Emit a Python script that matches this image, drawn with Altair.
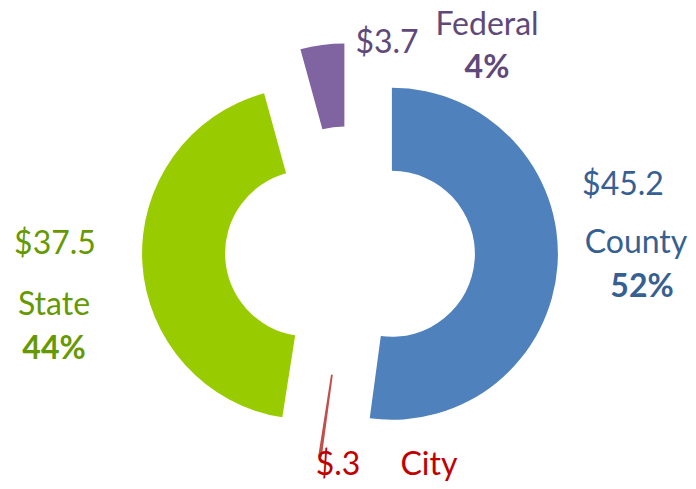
import altair as alt
import pandas as pd

# ---- data ----
categories = ["County", "City", "State", "Federal"]
values = [45.2, 0.3, 37.5, 3.7]
value_labels = ["$45.2", "$.3", "$37.5", "$3.7"]
pct_labels = ["52%", "", "44%", "4%"]

# ---- styles / layout ----
slice_colors = ["#4F81BD", "#C0504D", "#99CC00", "#8064A2"]
text_colors = ["#376092", "#C00000", "#669900", "#5F497A"]
FONT = "Lato"
FS = 32
W, H = 680, 473
MARGIN = 8
CX, CY = 350 - MARGIN, 251 - MARGIN
EXPLODE = 42
R_OUT, R_IN = 166, 83

# label anchors (page coords: center x, baseline y)
LABEL_POS = {
    ("County", "value"): (623, 195), ("County", "name"): (636, 253), ("County", "pct"): (642, 297),
    ("State", "value"): (55, 254), ("State", "name"): (54, 315), ("State", "pct"): (54, 359),
    ("Federal", "value"): (387, 53), ("Federal", "name"): (487, 35), ("Federal", "pct"): (487, 78),
    ("City", "value"): (338, 475), ("City", "name"): (429, 475),
}

slices = pd.DataFrame({"category": categories, "value": values, "order": list(range(len(categories)))})

rows = []
for i, c in enumerate(categories):
    for kind, txt in (("value", value_labels[i]), ("name", c), ("pct", pct_labels[i])):
        if txt and (c, kind) in LABEL_POS:
            px, py = LABEL_POS[(c, kind)]
            rows.append({"category": c, "kind": kind, "text": txt, "lx": px - MARGIN, "ly": py - MARGIN})
labels = pd.DataFrame(rows)

color_slices = alt.Scale(domain=categories, range=slice_colors)
color_text = alt.Scale(domain=categories, range=text_colors)

arcs = (
    alt.Chart(slices)
    .transform_window(cum="sum(value)", sort=[alt.SortField("order")], frame=[None, 0])
    .transform_joinaggregate(total="sum(value)")
    .transform_calculate(
        t0="2*PI*(datum.cum - datum.value)/datum.total",
        t1="2*PI*datum.cum/datum.total",
    )
    .transform_calculate(mid="(datum.t0 + datum.t1)/2")
    .transform_calculate(
        ox=f"{CX} + {EXPLODE}*sin(datum.mid)",
        oy=f"{CY} - {EXPLODE}*cos(datum.mid)",
    )
    .mark_arc(radius=R_OUT, radius2=R_IN)
    .encode(
        theta=alt.Theta("t0:Q", scale=None, stack=None),
        theta2="t1:Q",
        x=alt.X("ox:Q", scale=None),
        y=alt.Y("oy:Q", scale=None),
        color=alt.Color("category:N", scale=color_slices, legend=None),
    )
)

def text_layer(filter_expr, weight):
    return (
        alt.Chart(labels)
        .transform_filter(filter_expr)
        .mark_text(font=FONT, fontSize=FS, fontWeight=weight, align="center", baseline="alphabetic")
        .encode(
            x=alt.X("lx:Q", scale=None),
            y=alt.Y("ly:Q", scale=None),
            text="text:N",
            color=alt.Color("category:N", scale=color_text, legend=None),
        )
    )

normal = text_layer("datum.kind != 'pct'", "normal")
bold = text_layer("datum.kind == 'pct'", "bold")

chart = (
    alt.layer(arcs, normal, bold)
    .resolve_scale(color="independent")
    .properties(width=W, height=H, autosize="none", padding=0)
    .configure_view(stroke=None)
)

chart.save("out.html", embed_options={"renderer": "svg", "actions": False})
